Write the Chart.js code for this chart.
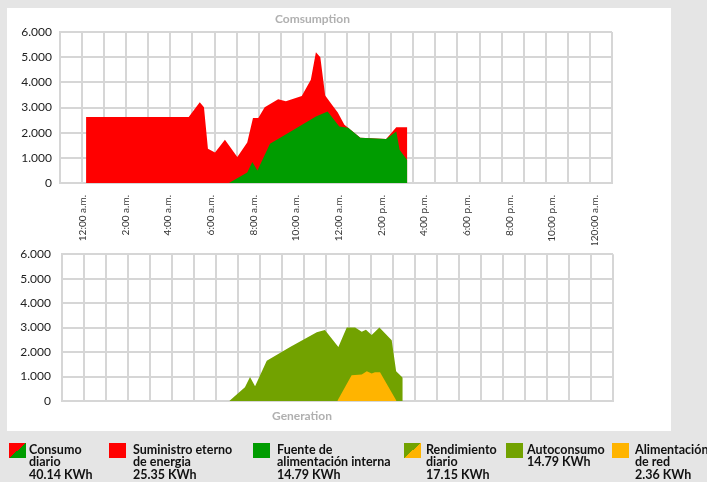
<!DOCTYPE html>
<html><head><meta charset="utf-8">
<script src="https://cdn.jsdelivr.net/npm/chart.js@4.4.1/dist/chart.umd.min.js"></script>
<style>
html,body{margin:0;padding:0;width:707px;height:482px;overflow:hidden;background:#e5e5e5;font-family:Lato,sans-serif}
#panel{position:absolute;left:7px;top:8px;width:664px;height:423px;background:#fff}
#c1{position:absolute;left:0;top:0}
#c2{position:absolute;left:-9px;top:236px}
.sw{position:absolute;top:443px;width:17px;height:15px}
.lt{position:absolute;top:443.5px;font-weight:bold;font-size:12.5px;line-height:12.6px;color:#111;white-space:nowrap}
</style></head><body>
<div id="panel"></div>
<canvas id="c1" width="707" height="245"></canvas>
<canvas id="c2" width="716" height="195"></canvas>

<div class="sw" style="left:9px;background:linear-gradient(to bottom right,#ff0000 50%,#009c00 50%)"></div>
<div class="lt" style="left:29px">Consumo<br>diario<br>40.14 KWh</div>
<div class="sw" style="left:109px;background:#ff0000"></div>
<div class="lt" style="left:133px">Suministro eterno<br>de energia<br>25.35 KWh</div>
<div class="sw" style="left:253px;background:#009c00"></div>
<div class="lt" style="left:277px">Fuente de<br>alimentación interna<br>14.79 KWh</div>
<div class="sw" style="left:404px;background:linear-gradient(to bottom right,#72a200 50%,#ffb400 50%)"></div>
<div class="lt" style="left:426px">Rendimiento<br>diario<br>17.15 KWh</div>
<div class="sw" style="left:506px;background:#72a200"></div>
<div class="lt" style="left:527px">Autoconsumo<br>14.79 KWh</div>
<div class="sw" style="left:612px;background:#ffb400"></div>
<div class="lt" style="left:635px">Alimentación<br>de red<br>2.36 KWh</div>

<script>
// ---- tick labels ----
const hourTicks = [0, 2, 4, 6, 8, 10, 12, 14, 16, 18, 20, 22, 24];
const hourLabels = ['12:00 a.m.', '2:00 a.m.', '4:00 a.m.', '6:00 a.m.', '8:00 a.m.', '10:00 a.m.',
  '12:00 a.m.', '2:00 p.m.', '4:00 p.m.', '6:00 p.m.', '8:00 p.m.', '10:00 p.m.', '120:00 a.m.'];

// ---- Consumption (hours of day, watts) ----
const consumoHours = [0.18, 4.83, 5.33, 5.52, 5.70, 6.02, 6.47, 7.03, 7.48, 7.74, 7.98, 8.27, 8.88, 9.23,
  9.95, 10.36, 10.59, 10.79, 11.01, 11.35, 11.58, 11.88, 12.05, 12.6, 13.77, 14.23, 14.73];
const consumoValues = [2620, 2620, 3210, 3010, 1360, 1210, 1720, 1030, 1610, 2580, 2580, 3010, 3330, 3250,
  3460, 4100, 5200, 5000, 3480, 3070, 2800, 2310, 2200, 1800, 1750, 2220, 2220];
const internaHours = [6.65, 7.48, 7.71, 7.94, 8.51, 9.45, 10.59, 11.12, 11.65, 12.05, 12.6, 13.77, 14.23, 14.38, 14.73];
const internaValues = [0, 420, 830, 500, 1560, 2050, 2640, 2840, 2250, 2200, 1800, 1750, 2050, 1320, 900];

// ---- Generation ----
const rendimientoHours = [6.59, 7.30, 7.53, 7.76, 8.29, 9.35, 10.56, 10.93, 11.54, 11.92, 12.30, 12.60,
  12.79, 13.05, 13.40, 13.96, 14.16, 14.46];
const rendimientoValues = [0, 560, 980, 600, 1640, 2210, 2810, 2900, 2210, 3000, 3000, 2830,
  2910, 2700, 3000, 2480, 1220, 950];
const redHours = [11.49, 12.14, 12.60, 12.83, 13.05, 13.20, 13.43, 14.18];
const redValues = [0, 1050, 1080, 1220, 1120, 1170, 1170, 0];

const pts = (xs, ys) => xs.map((x, i) => ({x: x, y: ys[i]}));
const fmt = v => String(v).replace(/\B(?=(\d{3})+(?!\d))/g, '.');

Chart.defaults.font.family = 'Lato';
const GRID = '#d6d6d6';

function areaDs(label, data, color, order) {
  return {label, data, backgroundColor: color, borderColor: color, borderWidth: 0,
    pointRadius: 0, tension: 0, fill: 'origin', order};
}

function baseScales(yWidth, yPad, withLabels, labelAxisHeight) {
  const s = {
    x: {type: 'linear', min: -1, max: 24, weight: 0,
      ticks: {display: false, stepSize: 1},
      grid: {color: GRID, lineWidth: 2, drawTicks: false},
      border: {color: GRID, width: 2},
      afterFit: sc => { sc.height = 0; }},
    y: {min: 0, max: 6000,
      ticks: {stepSize: 1000, padding: yPad, color: '#222', font: {size: 12}, callback: v => fmt(v)},
      grid: {color: GRID, lineWidth: 2, drawTicks: false},
      border: {color: GRID, width: 2},
      afterFit: sc => { sc.width = yWidth; }}
  };
  if (withLabels) {
    s.xl = {type: 'linear', position: 'bottom', axis: 'x', min: -1.063, max: 24.80, weight: 1,
      grid: {display: false, drawTicks: false}, border: {display: false},
      afterBuildTicks: sc => { sc.ticks = hourTicks.map(v => ({value: v})); },
      ticks: {autoSkip: false, minRotation: 90, maxRotation: 90, padding: 12, color: '#333',
        font: {size: 10}, callback: v => hourLabels[hourTicks.indexOf(v)]},
      afterFit: sc => { sc.height = labelAxisHeight; }};
  }
  return s;
}

new Chart(document.getElementById('c1'), {
  type: 'line',
  data: {datasets: [
    areaDs('Consumo diario', pts(consumoHours, consumoValues), '#ff0000', 2),
    areaDs('Fuente de alimentación interna', pts(internaHours, internaValues), '#009c00', 1)
  ]},
  options: {
    responsive: false, animation: false, devicePixelRatio: 1,
    layout: {padding: {left: 13, right: 95, top: 0, bottom: 0}},
    plugins: {legend: {display: false}, tooltip: {enabled: false},
      title: {display: true, text: 'Comsumption', color: '#b0b0b0', font: {size: 12, weight: 'bold'},
        padding: {top: 12, bottom: 5.6}}},
    scales: baseScales(47, 8, true, 62)
  }
});

new Chart(document.getElementById('c2'), {
  type: 'line',
  data: {datasets: [
    areaDs('Autoconsumo', pts(rendimientoHours, rendimientoValues), '#72a200', 2),
    areaDs('Alimentación de red', pts(redHours, redValues), '#ffb400', 1)
  ]},
  options: {
    responsive: false, animation: false, devicePixelRatio: 1,
    layout: {padding: {left: 0, right: 94, top: 13, bottom: 0}},
    plugins: {legend: {display: false}, tooltip: {enabled: false},
      title: {display: true, position: 'bottom', text: 'Generation', color: '#b0b0b0',
        font: {size: 12, weight: 'bold'}, padding: {top: 8, bottom: 7.6}}},
    scales: baseScales(71, 11, false, 0)
  }
});
</script>
</body></html>
